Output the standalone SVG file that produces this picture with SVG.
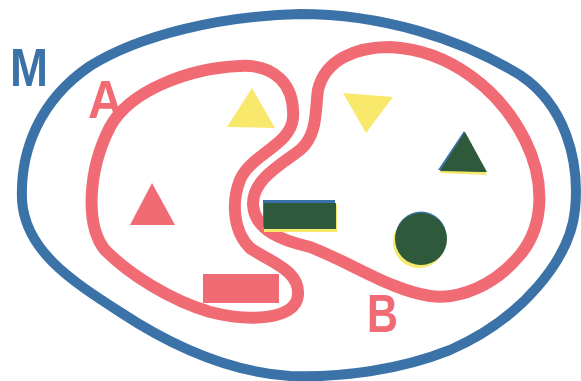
<svg xmlns="http://www.w3.org/2000/svg" width="581" height="381" viewBox="0 0 581 381">
<style>
.blue{fill:none;stroke:#3b72a8;stroke-width:10;stroke-linejoin:round}
.pink{fill:none;stroke:#f16b74;stroke-width:12;stroke-linejoin:round}
.lbl{font-family:"Liberation Sans",Arial,sans-serif;font-weight:bold;font-size:53px}
.y{fill:#f8e86c}.g{fill:#2e593a}.p{fill:#f16b74}.b{fill:#3b72a8}
</style>
<rect width="581" height="381" fill="#ffffff"/>
<g id="set-M">
<path class="blue" d="M 300,14 C 380,14 460,38 520,75 C 565,105 580,160 575,210 C 570,260 520,320 450,350 C 400,370 340,378 290,376 C 230,372 170,345 120,312 C 70,280 25,250 22,200 C 20,150 40,100 90,66 C 140,35 220,16 300,14 Z"/>
<text class="lbl" x="10" y="86" fill="#3b72a8" textLength="38" lengthAdjust="spacingAndGlyphs">M</text>
</g>
<g id="set-A">
<path class="pink" d="M 240,66 C 275,64 295,85 293,118 C 291,145 250,155 240,180 C 232,200 232,230 250,248 C 270,262 300,270 298,295 C 296,320 250,322 210,312 C 170,300 130,275 105,250 C 85,225 88,170 110,127 C 130,90 190,68 240,66 Z"/>
<text class="lbl" x="88" y="118" fill="#f16b74" textLength="35" lengthAdjust="spacingAndGlyphs">A</text>
</g>
<g id="set-B">
<path class="pink" d="M 390,47 C 450,50 500,90 525,140 C 545,180 545,225 520,255 C 495,285 460,300 430,296 C 390,290 350,262 310,247 C 280,240 255,230 253,205 C 252,180 280,165 300,150 C 318,135 315,110 318,90 C 325,60 355,47 390,47 Z"/>
<text class="lbl" x="367" y="332" fill="#f16b74" textLength="31" lengthAdjust="spacingAndGlyphs">B</text>
</g>
<g id="yellow-triangle-A">
<polygon class="y" points="252,88 227,127 275,128"/>
</g>
<g id="red-triangle-A">
<polygon class="p" points="152,183 130,225 175,225"/>
</g>
<g id="red-rect-A">
<rect class="p" x="203" y="274" width="76" height="29"/>
</g>
<g id="yellow-triangle-B">
<polygon class="y" points="343,93 393,97 366,133"/>
</g>
<g id="green-triangle-B">
<polygon class="y" points="465,134 439,173 487,175"/>
<polygon class="b" points="464,131 438,170 486,172"/>
<polygon class="g" points="465,132 440,171 487,172"/>
</g>
<g id="green-rect-AB">
<rect class="y" x="264" y="204" width="73" height="28"/>
<rect class="b" x="263" y="200" width="72" height="27"/>
<rect class="g" x="264" y="203" width="72" height="26"/>
</g>
<g id="green-circle-B">
<circle class="y" cx="419" cy="242" r="26"/>
<circle class="b" cx="421" cy="237" r="25.5"/>
<circle class="g" cx="421" cy="239" r="26"/>
</g>
</svg>
